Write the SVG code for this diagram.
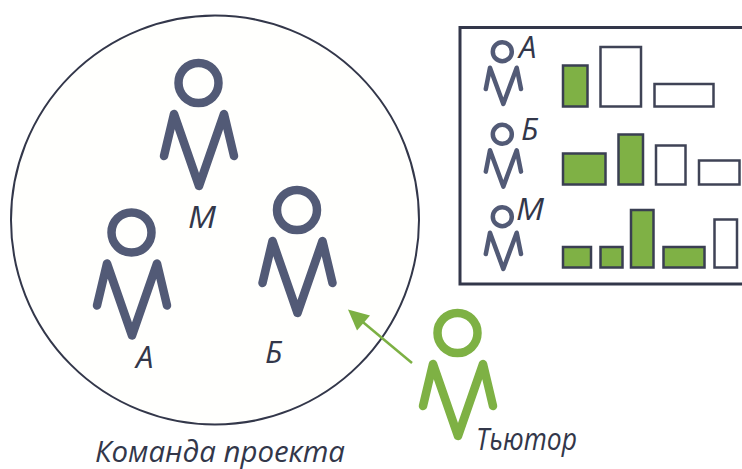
<svg xmlns="http://www.w3.org/2000/svg" width="742" height="469" viewBox="0 0 742 469">
<defs>
<g id="person"><circle cx="0" cy="0" r="20"/><path d="M-34.500 73L-24.500 31L0.500 103L25.500 31L35.500 73"/></g>
<g id="mini"><circle cx="0" cy="0" r="9.500"/><path d="M-16.500 37.300L-12.300 16L1 52.300L14.400 16L18.700 37.300"/></g>
</defs>
<style>
.p{fill:none;stroke:#525a76;stroke-width:8.500;stroke-linecap:round;stroke-linejoin:round}
.t{fill:none;stroke:#7eb144;stroke-width:8.500;stroke-linecap:round;stroke-linejoin:round}
.m{fill:none;stroke:#525a76;stroke-width:4.500;stroke-linecap:round;stroke-linejoin:round}
.g{fill:#7fb145;stroke:#3a3f52;stroke-width:2.500}
.w{fill:#fff;stroke:#3f4356;stroke-width:2.500}
text{font-family:"Open Sans","Liberation Sans",sans-serif;font-style:italic;fill:#33374a}
.l{font-size:31px}
</style>
<rect width="742" height="469" fill="#fff"/>
<g id="team"><ellipse cx="215" cy="220" rx="204" ry="204.500" fill="#fffffd" stroke="#33374a" stroke-width="2"/><text x="95" y="462" font-size="29" textLength="250" lengthAdjust="spacingAndGlyphs">Команда проекта</text></g>
<g id="member-m"><use href="#person" x="198.500" y="83" class="p"/><text x="188" y="228" class="l" textLength="28" lengthAdjust="spacingAndGlyphs">М</text></g>
<g id="member-a"><use href="#person" x="131.500" y="232.500" class="p"/><text x="136" y="368" class="l">А</text></g>
<g id="member-b"><use href="#person" x="297" y="210" class="p"/><text x="265" y="363" class="l">Б</text></g>
<g id="tutor"><use href="#person" x="457.500" y="333" class="t"/><text x="476" y="450" class="l" textLength="101" lengthAdjust="spacingAndGlyphs">Тьютор</text></g>
<g id="connectors"><path d="M412 363L358 318" fill="none" stroke="#7cb043" stroke-width="2.500"/><path d="M348 309.500L370 315.500L357 330.500Z" fill="#7cb043"/></g>
<g id="panel">
<rect x="460" y="27.500" width="290" height="256.500" fill="#fff" stroke="#33374a" stroke-width="3"/>
<g id="row-a"><use href="#mini" x="502.300" y="51.700" class="m"/><text x="519" y="58" class="l">А</text>
<rect class="g" x="563" y="65.500" width="24.500" height="41"/><rect class="w" x="600.500" y="47" width="40.500" height="59.500"/><rect class="w" x="654.500" y="84" width="59" height="22.500"/></g>
<g id="row-b"><use href="#mini" x="502.300" y="134.300" class="m"/><text x="521" y="140" class="l">Б</text>
<rect class="g" x="563" y="153.500" width="42.500" height="31"/><rect class="g" x="618.500" y="134.500" width="24.500" height="50"/><rect class="w" x="656" y="145.500" width="29.500" height="39"/><rect class="w" x="699" y="160.500" width="40.500" height="24"/></g>
<g id="row-m"><use href="#mini" x="502.300" y="216.700" class="m"/><text x="516" y="220" class="l" textLength="28" lengthAdjust="spacingAndGlyphs">М</text>
<rect class="g" x="563" y="247" width="28" height="20.500"/><rect class="g" x="600.500" y="247" width="22" height="20.500"/><rect class="g" x="631" y="210" width="22.500" height="57.500"/><rect class="g" x="663.500" y="247" width="41" height="20.500"/><rect class="w" x="714.500" y="219.500" width="22.500" height="48"/></g>
</g>
</svg>
